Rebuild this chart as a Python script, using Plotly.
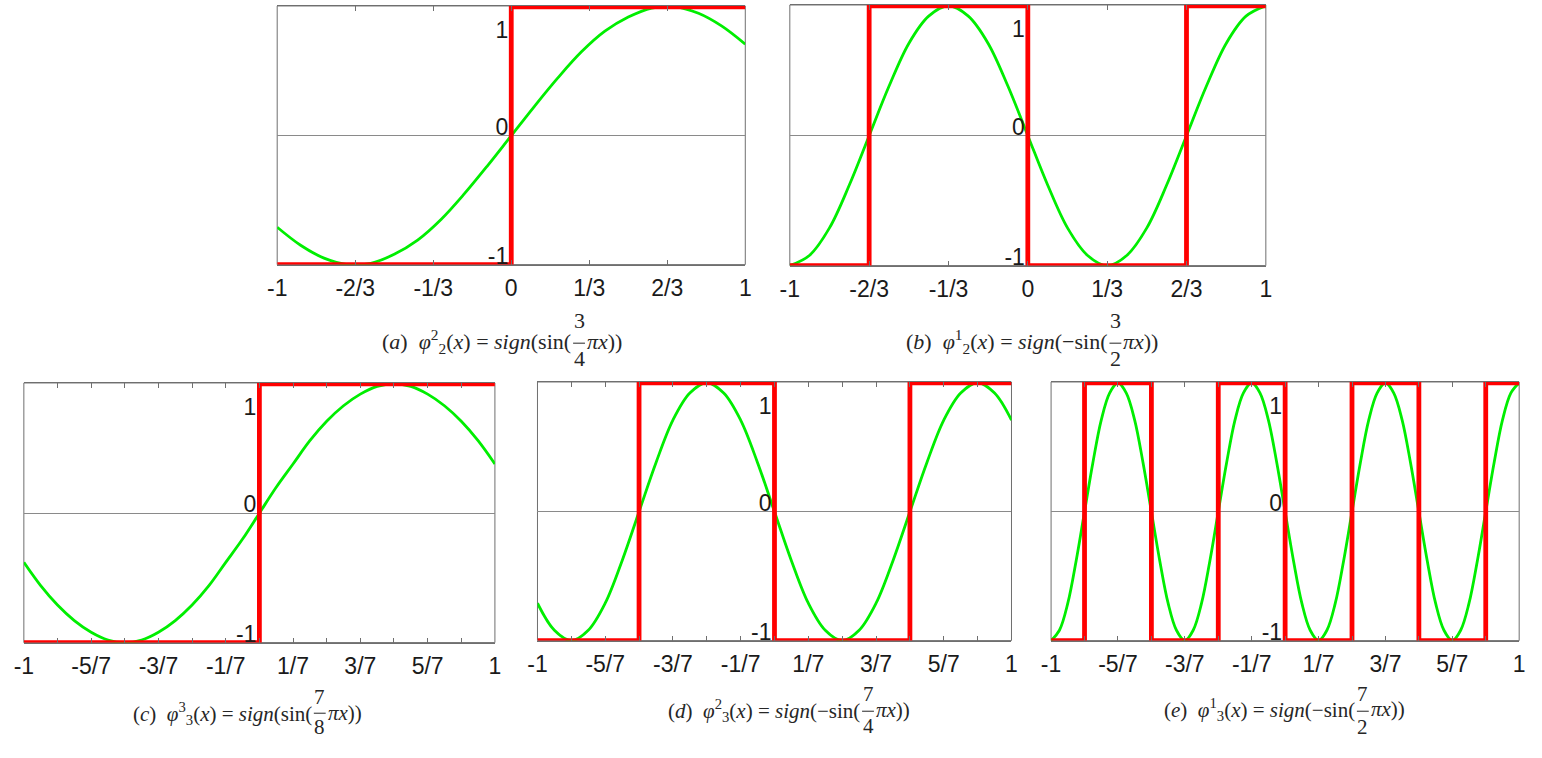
import numpy as np
import plotly.graph_objects as go

W, H = 1542, 758

# ---------------- data ----------------
panel_ids = ["a", "b", "c", "d", "e"]

# green curves: values read at evenly spaced sample positions over [-1, 1]
a_curve_y = [-0.71, -0.85, -0.95, -1.0, -0.99, -0.92, -0.81, -0.65, -0.45, -0.23, 0.0,
             0.23, 0.45, 0.65, 0.81, 0.92, 0.99, 1.0, 0.95, 0.85, 0.71]
b_curve_y = [-1.0, -0.92, -0.71, -0.38, 0.0, 0.38, 0.71, 0.92, 1.0, 0.92, 0.71, 0.38, 0.0,
             -0.38, -0.71, -0.92, -1.0, -0.92, -0.71, -0.38, 0.0, 0.38, 0.71, 0.92, 1.0]
c_curve_y = [-0.38, -0.56, -0.71, -0.83, -0.92, -0.98, -1.0, -0.98, -0.92, -0.83, -0.71,
             -0.56, -0.38, -0.2, 0.0, 0.2, 0.38, 0.56, 0.71, 0.83, 0.92, 0.98, 1.0, 0.98,
             0.92, 0.83, 0.71, 0.56, 0.38]
d_curve_y = [-0.71, -0.92, -1.0, -0.92, -0.71, -0.38, 0.0, 0.38, 0.71, 0.92, 1.0, 0.92,
             0.71, 0.38, 0.0, -0.38, -0.71, -0.92, -1.0, -0.92, -0.71, -0.38, 0.0, 0.38,
             0.71, 0.92, 1.0, 0.92, 0.71]
e_curve_y = [-1.0, -0.92, -0.71, -0.38, 0.0, 0.38, 0.71, 0.92, 1.0, 0.92, 0.71, 0.38,
             0.0, -0.38, -0.71, -0.92,
             -1.0, -0.92, -0.71, -0.38, 0.0, 0.38, 0.71, 0.92, 1.0, 0.92, 0.71, 0.38,
             0.0, -0.38, -0.71, -0.92,
             -1.0, -0.92, -0.71, -0.38, 0.0, 0.38, 0.71, 0.92, 1.0, 0.92, 0.71, 0.38,
             0.0, -0.38, -0.71, -0.92,
             -1.0, -0.92, -0.71, -0.38, 0.0, 0.38, 0.71, 0.92, 1.0]

# red sign() step functions: breakpoints and levels
a_step_x = [-1, 0, 1]
a_step_y = [-1, 1, 1]
b_step_x = [-1, -2/3, 0, 2/3, 1]
b_step_y = [-1, 1, -1, 1, 1]
c_step_x = [-1, 0, 1]
c_step_y = [-1, 1, 1]
d_step_x = [-1, -4/7, 0, 4/7, 1]
d_step_y = [-1, 1, -1, 1, 1]
e_step_x = [-1, -6/7, -4/7, -2/7, 0, 2/7, 4/7, 6/7, 1]
e_step_y = [-1, 1, -1, 1, -1, 1, -1, 1, 1]

# tick values / labels
top_tickvals = [-1, -2/3, -1/3, 0, 1/3, 2/3, 1]
top_ticktext = ["-1", "-2/3", "-1/3", "0", "1/3", "2/3", "1"]
bot_tickvals = [-1, -6/7, -5/7, -4/7, -3/7, -2/7, -1/7, 0, 1/7, 2/7, 3/7, 4/7, 5/7, 6/7, 1]
bot_ticktext = ["-1", "", "-5/7", "", "-3/7", "", "-1/7", "", "1/7", "", "3/7", "", "5/7", "", "1"]
y_low_vals = [0, -1]
y_low_text = ["0", "-1"]
y_top_vals = [1]
y_top_text = ["1"]

# captions: (label, phi sup, phi sub, minus sign, numerator, denominator)
captions = {
    "a": ("a", "2", "2", "", "3", "4"),
    "b": ("b", "1", "2", "\u2212", "3", "2"),
    "c": ("c", "3", "3", "", "7", "8"),
    "d": ("d", "2", "3", "\u2212", "7", "4"),
    "e": ("e", "1", "3", "\u2212", "7", "2"),
}

curves = {"a": a_curve_y, "b": b_curve_y, "c": c_curve_y, "d": d_curve_y, "e": e_curve_y}
steps = {"a": (a_step_x, a_step_y), "b": (b_step_x, b_step_y), "c": (c_step_x, c_step_y),
         "d": (d_step_x, d_step_y), "e": (e_step_x, e_step_y)}

# ---------------- layout (pixel boxes) ----------------
boxes = {"a": (270, 743, 6, 266), "b": (788, 1269, 5, 267),
         "c": (14, 490, 385, 646), "d": (533, 1012, 384, 644), "e": (1052, 1525, 384, 644)}
# fraction x, main text centre y, numerator y, denominator y, bar y, font size
cap_pos = {"a": (575, 343, 322, 360, 345, 22), "b": (1117, 343, 322, 360, 345, 22),
           "c": (313, 717, 701, 731, 717, 21), "d": (867, 714, 698, 730, 715, 21),
           "e": (1367, 713, 698, 731, 715, 21)}

FRAME = "#6f6f6f"
ZERO = "#8a8a8a"
TXT = "#1a1a1a"
tick_font = dict(family="Arial, Liberation Sans, sans-serif", size=23, color=TXT)
yr = [-1.0, 1.006]

fig = go.Figure()
layout = {}
shapes = []
annotations = []

for i, pid in enumerate(panel_ids, start=1):
    sfx = "" if i == 1 else str(i)
    xs, ys = "x" + sfx, "y" + sfx
    ys_top = "y" + str(i + 5)
    sx, sy = steps[pid]
    cy = curves[pid]
    grid = np.linspace(-1, 1, len(cy))

    fig.add_trace(go.Scatter(x=grid, y=cy, mode="lines",
                             line=dict(color="#00ee00", width=2.8, shape="spline", smoothing=1),
                             xaxis=xs, yaxis=ys, cliponaxis=False,
                             showlegend=False, hoverinfo="skip"))
    fig.add_trace(go.Scatter(x=sx, y=sy, mode="lines",
                             line=dict(color="#ff0000", width=4.8, shape="hv"),
                             xaxis=xs, yaxis=ys_top, cliponaxis=False,
                             showlegend=False, hoverinfo="skip"))

    l, r, t, b = boxes[pid]
    xd = [l / W, r / W]
    yd = [1 - b / H, 1 - t / H]
    mid = (xd[0] + xd[1]) / 2
    top_row = pid in ("a", "b")

    layout["xaxis" + sfx] = dict(
        domain=xd, anchor=ys, range=[-1, 1],
        tickmode="array",
        tickvals=top_tickvals if top_row else bot_tickvals,
        ticktext=top_ticktext if top_row else bot_ticktext,
        ticks="inside", ticklen=5, tickwidth=1, tickcolor=FRAME,
        showline=True, linecolor=FRAME, linewidth=1, mirror="ticks",
        showgrid=False, zeroline=False, tickfont=tick_font,
        ticklabelstandoff=3, fixedrange=True)
    layout["yaxis" + sfx] = dict(
        domain=yd, anchor="free", position=mid, range=yr,
        tickmode="array", tickvals=y_low_vals, ticktext=y_low_text,
        ticks="", showline=False, showgrid=False,
        zeroline=True, zerolinecolor=ZERO, zerolinewidth=1,
        ticklabelposition="outside top", ticklabelstandoff=3, ticklabelshift=7,
        tickfont=tick_font, fixedrange=True)
    layout["yaxis" + str(i + 5)] = dict(
        overlaying=ys, anchor="free", position=mid, range=yr,
        tickmode="array", tickvals=y_top_vals, ticktext=y_top_text,
        ticks="", showline=False, showgrid=False, zeroline=False,
        ticklabelposition="outside bottom", ticklabelstandoff=3, ticklabelshift=7,
        tickfont=tick_font, fixedrange=True)

    shapes.append(dict(type="rect", xref=xs + " domain", yref=ys + " domain",
                       x0=0, x1=1, y0=0, y1=1, line=dict(color=FRAME, width=1),
                       layer="below"))

    # caption
    lab, sup, sub, minus, num, den = captions[pid]
    fx, my, ny, dy, by, fs = cap_pos[pid]
    cap_font = dict(family="Liberation Serif, Times New Roman, serif", size=fs, color="#262626")
    left = ("(<i>%s</i>)\u00a0\u00a0<i>\u03c6</i><sup>%s</sup><sub>%s</sub>(<i>x</i>)"
            " = <i>sign</i>(%ssin(" % (lab, sup, sub, minus))
    annotations.append(dict(text=left, xref="paper", yref="paper", x=(fx - 6) / W,
                            y=1 - my / H, xanchor="right", yanchor="middle",
                            showarrow=False, font=cap_font))
    annotations.append(dict(text="<i>\u03c0x</i>))", xref="paper", yref="paper",
                            x=(fx + 6) / W, y=1 - my / H, xanchor="left",
                            yanchor="middle", showarrow=False, font=cap_font))
    annotations.append(dict(text=num, xref="paper", yref="paper", x=fx / W, y=1 - ny / H,
                            xanchor="center", yanchor="middle", showarrow=False,
                            font=cap_font))
    annotations.append(dict(text=den, xref="paper", yref="paper", x=fx / W, y=1 - dy / H,
                            xanchor="center", yanchor="middle", showarrow=False,
                            font=cap_font))
    shapes.append(dict(type="line", xref="paper", yref="paper",
                       x0=(fx - 6) / W, x1=(fx + 6) / W, y0=1 - by / H, y1=1 - by / H,
                       line=dict(color="#262626", width=1)))

fig.update_layout(
    width=W, height=H, margin=dict(l=0, r=0, t=0, b=0),
    paper_bgcolor="white", plot_bgcolor="white",
    showlegend=False, shapes=shapes, annotations=annotations, **layout)

fig.write_html("out.html")
